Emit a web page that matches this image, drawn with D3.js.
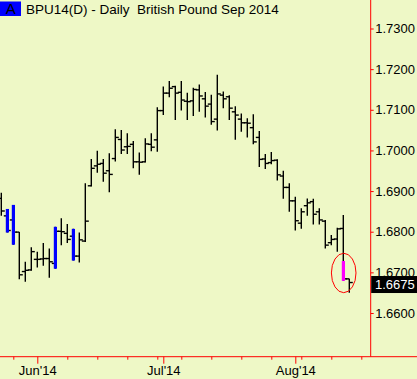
<!DOCTYPE html>
<html>
<head>
<meta charset="utf-8">
<script src="https://cdn.jsdelivr.net/npm/d3@7"></script>
<style>
  html, body { margin: 0; padding: 0; background: #eef8c6; }
  svg { display: block; font-family: Arial, "Liberation Sans", sans-serif; }
</style>
</head>
<body>
<div id="chart"></div>
<script>
const W = 417, H = 379;

// trading days shown on the time axis (data + a few empty days on the right)
const days = [
  "2014-05-22","2014-05-23","2014-05-27","2014-05-28","2014-05-29","2014-05-30",
  "2014-06-02","2014-06-03","2014-06-04","2014-06-05","2014-06-06",
  "2014-06-09","2014-06-10","2014-06-11","2014-06-12","2014-06-13",
  "2014-06-16","2014-06-17","2014-06-18","2014-06-19","2014-06-20",
  "2014-06-23","2014-06-24","2014-06-25","2014-06-26","2014-06-27",
  "2014-06-30","2014-07-01","2014-07-02","2014-07-03",
  "2014-07-07","2014-07-08","2014-07-09","2014-07-10","2014-07-11",
  "2014-07-14","2014-07-15","2014-07-16","2014-07-17","2014-07-18",
  "2014-07-21","2014-07-22","2014-07-23","2014-07-24","2014-07-25",
  "2014-07-28","2014-07-29","2014-07-30","2014-07-31","2014-08-01",
  "2014-08-04","2014-08-05","2014-08-06","2014-08-07","2014-08-08",
  "2014-08-11","2014-08-12","2014-08-13","2014-08-14","2014-08-15",
  "2014-08-18","2014-08-19"
];

const opens = [
  1.6882,1.6839,1.6829,1.6799,1.6702,1.6706,1.6732,1.6733,1.6734,1.6722,
  1.6801,1.6796,1.6789,1.6740,1.6777,1.6913,1.6962,1.6968,1.6950,1.6980,
  1.7027,1.7009,1.7015,1.6972,1.6972,1.7015,1.7026,1.7098,1.7141,1.7157,
  1.7143,1.7121,1.7122,1.7149,1.7127,1.7114,1.7077,1.7136,1.7132,1.7095,
  1.7077,1.7068,1.7056,1.7032,1.6979,1.6970,1.6976,1.6937,1.6909,1.6876,
  1.6821,1.6864,1.6874,1.6849,1.6826,1.6773,1.6782,1.6808,1.6684
];
const highs = [
  1.6896,1.6856,1.6866,1.6799,1.6726,1.6762,1.6751,1.6772,1.6759,1.6812,
  1.6833,1.6819,1.6807,1.6798,1.6919,1.6979,1.6999,1.6979,1.6993,1.7052,
  1.7050,1.7042,1.7023,1.6995,1.7030,1.7042,1.7106,1.7157,1.7171,1.7159,
  1.7171,1.7142,1.7154,1.7162,1.7144,1.7137,1.7186,1.7145,1.7136,1.7109,
  1.7091,1.7079,1.7089,1.7048,1.6991,1.6996,1.6978,1.6950,1.6919,1.6886,
  1.6858,1.6882,1.6881,1.6858,1.6829,1.6792,1.6810,1.6841,1.6684
];
const lows = [
  1.6839,1.6798,1.6768,1.6683,1.6677,1.6704,1.6712,1.6716,1.6687,1.6709,
  1.6767,1.6772,1.6729,1.6724,1.6775,1.6911,1.6945,1.6923,1.6897,1.6973,
  1.6991,1.6991,1.6956,1.6940,1.6970,1.6998,1.6997,1.7087,1.7131,1.7075,
  1.7098,1.7075,1.7085,1.7095,1.7081,1.7063,1.7049,1.7104,1.7075,1.7026,
  1.7046,1.7032,1.7015,1.6959,1.6954,1.6966,1.6926,1.6881,1.6849,1.6803,
  1.6807,1.6839,1.6818,1.6818,1.6759,1.6767,1.6751,1.6679,1.6650
];
const closes = [
  1.6851,1.6803,1.6799,1.6694,1.6705,1.6751,1.6732,1.6734,1.6726,1.6801,
  1.6800,1.6781,1.6740,1.6780,1.6826,1.6956,1.6966,1.6944,1.6941,1.7032,
  1.7001,1.7010,1.6972,1.6971,1.7016,1.7008,1.7098,1.7141,1.7153,1.7141,
  1.7124,1.7120,1.7150,1.7134,1.7109,1.7071,1.7139,1.7127,1.7104,1.7087,
  1.7068,1.7067,1.7021,1.6978,1.6968,1.6975,1.6940,1.6909,1.6876,1.6827,
  1.6849,1.6871,1.6843,1.6829,1.6767,1.6781,1.6807,1.6684,1.6675
];

// highlighted bars (thick coloured segment from top price down to the low)
const markIndex = [1, 2, 9, 12, 57];
const markColor = ["#0000ff", "#0000ff", "#0000ff", "#0000ff", "#ff00ff"];
const markTop   = [1.6856, 1.6866, 1.6812, 1.6807, 1.6728];

const priceTicks = [1.66, 1.67, 1.68, 1.69, 1.70, 1.71, 1.72, 1.73];
const lastPrice = 1.6675;
const title = "BPU14(D) - Daily  British Pound Sep 2014";

const parse = d3.timeParse("%Y-%m-%d");
const dates = days.map(parse);
const bars = opens.map((o, i) => ({ date: dates[i], o, h: highs[i], l: lows[i], c: closes[i] }));

const axisX = 370.7, axisY = 356.7;

const x = d3.scalePoint()
  .domain(dates)
  .range([1.3, 1.3 + 6 * (dates.length - 1)]);

const y = d3.scaleLinear()
  .domain([1.66, 1.73])
  .range([313, 28.5]);

const svg = d3.select("#chart")
  .append("svg")
  .attr("width", W)
  .attr("height", H);

svg.append("rect").attr("width", W).attr("height", H).attr("fill", "#eef8c6");

// week / month ticks
const weekStarts = dates.filter((d, i) => i > 0 && (d.getDay() === 1 || (d - dates[i - 1]) > 864e5 * 1.5));
const monthStarts = dates.filter((d, i) => i > 0 && d.getMonth() !== dates[i - 1].getMonth());
const minor = weekStarts.filter(d => !monthStarts.some(m => +m === +d));

const gMinor = svg.append("g")
  .attr("transform", `translate(0,${axisY})`)
  .call(d3.axisBottom(x).tickValues(minor).tickSize(3).tickFormat(""));
const gMajor = svg.append("g")
  .attr("transform", `translate(0,${axisY})`)
  .call(d3.axisBottom(x).tickValues(monthStarts).tickSize(7).tickPadding(2)
    .tickFormat(d3.timeFormat("%b'%y")));
[gMinor, gMajor].forEach(g => {
  g.select(".domain").remove();
  g.selectAll("line").attr("stroke", "#ff0000");
  g.selectAll("text").attr("fill", "#000").style("font-size", "13px")
    .style("font-family", "Arial, 'Liberation Sans', sans-serif");
});

// price axis
const gy = svg.append("g")
  .attr("transform", `translate(${axisX},0)`)
  .call(d3.axisRight(y).tickValues(priceTicks).tickSize(3).tickPadding(1.5)
    .tickFormat(d3.format(".4f")));
gy.select(".domain").remove();
gy.selectAll("line").attr("stroke", "#ff0000");
gy.selectAll("text").attr("fill", "#000").style("font-size", "13px")
  .style("font-family", "Arial, 'Liberation Sans', sans-serif");

// frame lines
svg.append("line").attr("x1", 0).attr("x2", W).attr("y1", axisY).attr("y2", axisY)
  .attr("stroke", "#ff0000").attr("stroke-width", 1);
svg.append("line").attr("x1", axisX).attr("x2", axisX).attr("y1", 0).attr("y2", axisY)
  .attr("stroke", "#ff0000").attr("stroke-width", 1);

// OHLC bars
const gb = svg.append("g").attr("stroke", "#000").attr("stroke-width", 1.4);
gb.selectAll(".hl").data(bars).join("line")
  .attr("x1", d => x(d.date)).attr("x2", d => x(d.date))
  .attr("y1", d => y(d.h)).attr("y2", d => y(d.l));
gb.selectAll(".op").data(bars).join("line")
  .attr("x1", d => x(d.date) - 3.5).attr("x2", d => x(d.date))
  .attr("y1", d => y(d.o)).attr("y2", d => y(d.o));
gb.selectAll(".cl").data(bars).join("line")
  .attr("x1", d => x(d.date)).attr("x2", d => x(d.date) + 3.5)
  .attr("y1", d => y(d.c)).attr("y2", d => y(d.c));

// coloured highlight bars
svg.selectAll(".mark").data(markIndex).join("rect")
  .attr("x", d => x(bars[d].date) - 1.5)
  .attr("width", 3.2)
  .attr("y", (d, k) => y(markTop[k]))
  .attr("height", (d, k) => y(bars[d].l) - y(markTop[k]))
  .attr("fill", (d, k) => markColor[k]);

// red ellipse around the signal bar
const sig = bars[57];
svg.append("ellipse")
  .attr("cx", x(sig.date) + 0.4)
  .attr("cy", (y(1.6747) + y(1.6650)) / 2)
  .attr("rx", 12.3)
  .attr("ry", (y(1.6650) - y(1.6747)) / 2)
  .attr("fill", "none").attr("stroke", "#ff0000").attr("stroke-width", 1);

// last price box (drawn over the neighbouring tick label, as in the source)
const ly = y(lastPrice) + 2;
svg.append("rect").attr("x", axisX + 0.5).attr("y", ly - 8.5).attr("width", W - axisX).attr("height", 17)
  .attr("fill", "#000");
svg.append("text").attr("x", 375).attr("y", ly).attr("dy", "0.35em")
  .attr("fill", "#fff").style("font-size", "13px").text(d3.format(".4f")(lastPrice));

// title
svg.append("rect").attr("x", 0).attr("y", 1.5).attr("width", 21).attr("height", 14.5).attr("fill", "#0000ff");
svg.append("text").attr("x", 10.8).attr("y", 14).attr("text-anchor", "middle")
  .attr("fill", "#000").style("font-size", "15px").text("A");
svg.append("text").attr("x", 26).attr("y", 14)
  .attr("fill", "#000").style("font-size", "13.5px").style("white-space", "pre").text(title);
</script>
</body>
</html>
